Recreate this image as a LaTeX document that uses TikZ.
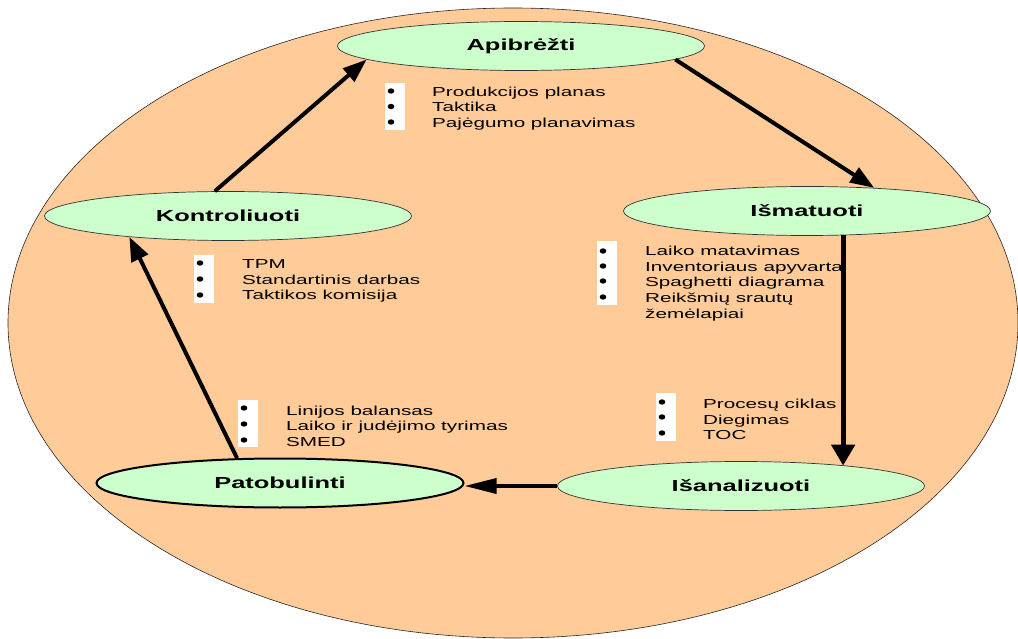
\documentclass[tikz,border=0pt]{standalone}
\usepackage{fontspec}
\setmainfont{Liberation Sans}
\newfontfamily\widefont[FakeStretch=1.59]{Liberation Sans}
\usetikzlibrary{arrows.meta,shapes.geometric}
\definecolor{peach}{HTML}{FFCC99}
\definecolor{mint}{HTML}{CCFFCC}
\begin{document}
\begin{tikzpicture}[x=1pt,y=-1pt,
  stage/.style={ellipse,draw=black!80,line width=0.7pt,fill=mint,inner sep=0pt,
    minimum width=367pt,minimum height=49pt,
    font=\widefont\bfseries\fontsize{16}{18}\selectfont},
  items/.style={anchor=west,align=left,inner sep=0pt,
    font=\widefont\fontsize{13}{15.6}\selectfont},
  bulletbox/.style={fill=white,draw=none},
  flow/.style={line width=4pt},
  tipA/.style={-{Triangle[length=24pt,width=17pt]}},
]
\useasboundingbox (0,0) rectangle (1018,639);

% outer cycle area
\draw[fill=peach,draw=black!85,line width=0.6pt] (513,323) ellipse [x radius=505, y radius=315];

% the five stages
\node[stage] (api) at (521,46) {Apibrėžti};
\node[stage] (ism) at (807,211) {Išmatuoti};
\node[stage] (isa) at (741,486) {Išanalizuoti};
\node[stage,line width=2pt,draw=black] (pat) at (280,483) {Patobulinti};
\node[stage] (kon) at (228,216) {Kontroliuoti};

% bullet columns
\foreach \x/\ya/\yb/\ys in {385/83/130/{91,106.5,122},
                            194/255/303/{263,279,295},
                            597/241/305/{251,266,281,297},
                            656/393/441/{402,417,433},
                            238/400/447/{408,424,440}}{
  \fill[bulletbox] (\x,\ya) rectangle (\x+20,\yb);
  \foreach \y in \ys { \fill (\x+6,\y) ellipse [x radius=3.3, y radius=2.7]; }
}

% item lists
\node[items] (lapi) at (432,108.5) {Produkcijos planas\\Taktika\\Pajėgumo planavimas};
\node[items] (lkon) at (242,281) {TPM\\Standartinis darbas\\Taktikos komisija};
\node[items] (lism) at (645,283.5) {Laiko matavimas\\Inventoriaus apyvarta\\Spaghetti diagrama\\Reikšmių srautų\\žemėlapiai};
\node[items] (lisa) at (703,419.5) {Procesų ciklas\\Diegimas\\TOC};
\node[items] (lpat) at (286,426) {Linijos balansas\\Laiko ir judėjimo tyrimas\\SMED};

% connectors around the cycle
\draw[flow,tipA] (kon.118) -- (api.185);
\draw[flow,tipA] (api.-5) -- (ism.19);
\draw[line width=5pt,-{Triangle[length=21pt,width=23pt]}] (ism.-34) -- (ism.-34 |- isa.11.5);
\draw[line width=3.5pt,-{Triangle[length=32pt,width=15pt]}] (isa.west) -- (isa.west -| pat.east);
\draw[flow,-{Triangle[length=24pt,width=18pt]}] (pat.150) -- (kon.192);
\end{tikzpicture}
\end{document}
